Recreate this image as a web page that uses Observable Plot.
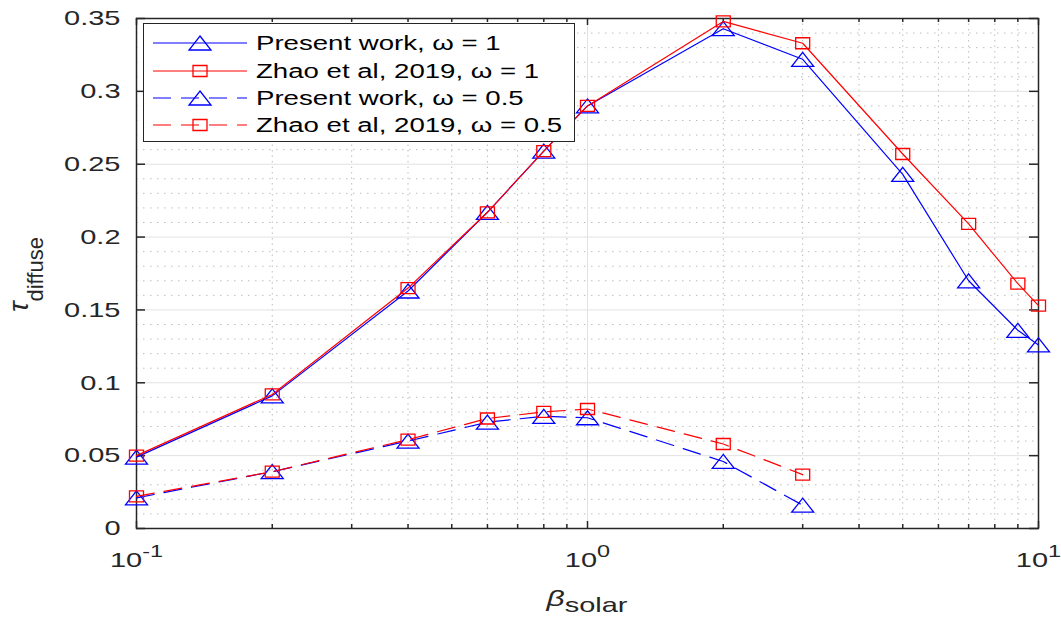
<!DOCTYPE html>
<html>
<head>
<meta charset="utf-8">
<script src="https://cdn.jsdelivr.net/npm/d3@7"></script>
<script src="https://cdn.jsdelivr.net/npm/@observablehq/plot@0.6"></script>
<style>
  html, body { margin: 0; padding: 0; background: #fff; }
</style>
</head>
<body>
<div id="chart"></div>
<script>
// Diffuse transmittance vs. solar extinction parameter, two albedos
const betaFull = [0.1, 0.2, 0.4, 0.6, 0.8, 1, 2, 3, 5, 7, 9, 10];
const presentW1 = [0.049, 0.091, 0.163, 0.217, 0.259, 0.290, 0.343, 0.322, 0.243, 0.170, 0.136, 0.126];
const zhaoW1    = [0.050, 0.092, 0.165, 0.217, 0.259, 0.290, 0.348, 0.333, 0.257, 0.209, 0.168, 0.153];

const betaHalf = [0.1, 0.2, 0.4, 0.6, 0.8, 1, 2, 3];
const presentW05 = [0.021, 0.039, 0.060, 0.073, 0.077, 0.076, 0.046, 0.016];
const zhaoW05    = [0.022, 0.039, 0.061, 0.0755, 0.080, 0.082, 0.058, 0.037];

const seriesNames = [
  "Present work, ω = 1",
  "Zhao et al, 2019, ω = 1",
  "Present work, ω = 0.5",
  "Zhao et al, 2019, ω = 0.5"
];

const yTicks = [0, 0.05, 0.1, 0.15, 0.2, 0.25, 0.3, 0.35];
const yTickLabels = ["0", "0.05", "0.1", "0.15", "0.2", "0.25", "0.3", "0.35"];
const xTicks = [0.1, 1, 10];
const xTickExponents = ["-1", "0", "1"];

// geometry
const W = 1061, H = 617;
const mL = 136, mR = 23, mT = 18, mB = 89;
const innerW = W - mL - mR, innerH = H - mT - mB;
const SX = 1.38; // horizontal glyph stretch

const BLUE = "#0000ff", RED = "#ff0000", AX = "#262626";
const FONT = "'Liberation Sans', Arial, sans-serif";

// hollow markers
const triSym = { draw(ctx) { ctx.moveTo(0, -7); ctx.lineTo(11, 7); ctx.lineTo(-11, 7); ctx.closePath(); } };
const sqSym  = { draw(ctx) { ctx.moveTo(-7, -5.5); ctx.lineTo(7, -5.5); ctx.lineTo(7, 5.5); ctx.lineTo(-7, 5.5); ctx.closePath(); } };

const rows = (xs, ys) => xs.map((x, i) => ({x, y: ys[i]}));
const series = [
  {data: rows(betaFull, presentW1), stroke: BLUE, symbol: triSym, dash: null},
  {data: rows(betaFull, zhaoW1),    stroke: RED,  symbol: sqSym,  dash: null},
  {data: rows(betaHalf, presentW05), stroke: BLUE, symbol: triSym, dash: "18,10"},
  {data: rows(betaHalf, zhaoW05),    stroke: RED,  symbol: sqSym,  dash: "18,10"}
];

const xMinor = d3.range(2, 10).flatMap(k => [k / 10, k]);
const yMinor = d3.range(1, 35).filter(i => i % 5 !== 0).map(i => i / 100);

const marks = [
  Plot.ruleY(yMinor, {y: d => d, stroke: "#bdbdbd", strokeDasharray: "1.5,5.5"}),
  Plot.ruleX(xMinor, {x: d => d, stroke: "#bdbdbd", strokeDasharray: "1.5,4"}),
  Plot.ruleY(yTicks, {y: d => d, stroke: "#e2e2e2", strokeWidth: 1}),
  Plot.ruleX([1], {x: d => d, stroke: "#e2e2e2", strokeWidth: 1}),
  Plot.frame({stroke: AX, strokeWidth: 1.5}),
  // inward ticks on all four sides
  Plot.tickX(xMinor, {x: d => d, stroke: AX, strokeWidth: 1.5, insetTop: innerH - 4}),
  Plot.tickX(xTicks, {x: d => d, stroke: AX, strokeWidth: 1.5, insetTop: innerH - 7}),
  Plot.tickX(xMinor, {x: d => d, stroke: AX, strokeWidth: 1.5, insetBottom: innerH - 4}),
  Plot.tickX(xTicks, {x: d => d, stroke: AX, strokeWidth: 1.5, insetBottom: innerH - 7}),
  Plot.tickY(yTicks, {y: d => d, stroke: AX, strokeWidth: 1.5, insetRight: innerW - 9}),
  Plot.tickY(yTicks, {y: d => d, stroke: AX, strokeWidth: 1.5, insetLeft: innerW - 9}),
  Plot.axisY({ticks: yTicks, tickSize: 0, tickPadding: 16, label: null,
              tickFormat: d => yTickLabels[yTicks.indexOf(d)]}),
  Plot.axisX({ticks: xTicks, tickSize: 0, tickPadding: 24, label: null,
              tickFormat: d => xTickExponents[xTicks.indexOf(d)]})
];

for (const s of series) {
  marks.push(Plot.line(s.data, {x: "x", y: "y", stroke: s.stroke, strokeWidth: 1.2,
                                strokeDasharray: s.dash, curve: "linear"}));
  marks.push(Plot.dot(s.data, {x: "x", y: "y", symbol: s.symbol, r: 8, stroke: s.stroke,
                               fill: "none", strokeWidth: 1.3}));
}

const svg = Plot.plot({
  width: W, height: H,
  marginLeft: mL, marginRight: mR, marginTop: mT, marginBottom: mB,
  x: {type: "log", domain: [0.1, 10]},
  y: {type: "linear", domain: [0, 0.35]},
  style: {fontFamily: FONT, fontSize: "21px", color: AX, background: "#fff", overflow: "visible"},
  marks
});
document.getElementById("chart").appendChild(svg);

const NS = "http://www.w3.org/2000/svg";

// decade labels as 10 with superscript exponent
svg.querySelectorAll('g[aria-label="x-axis tick label"] text').forEach(t => {
  const exp = t.textContent;
  t.textContent = "10";
  const sup = document.createElementNS(NS, "tspan");
  sup.setAttribute("dy", "-10");
  sup.setAttribute("font-size", "17px");
  sup.textContent = exp;
  t.appendChild(sup);
});

// widen tick label glyphs about their anchors
svg.querySelectorAll("text").forEach(t => {
  const x = +(t.getAttribute("x") || 0);
  const tr = t.getAttribute("transform") || "";
  t.setAttribute("transform", `${tr} translate(${x},0) scale(${SX},1) translate(${-x},0)`);
});

const root = d3.select(svg);

// axis titles
const xl = root.append("text")
  .attr("transform", `translate(587,606) scale(${SX},1)`)
  .attr("text-anchor", "middle")
  .attr("fill", AX)
  .attr("font-family", FONT);
xl.append("tspan").attr("font-size", 23).attr("font-style", "italic").text("β");
xl.append("tspan").attr("font-size", 21).attr("dy", 6).text("solar");

const yl = root.append("text")
  .attr("transform", "translate(28,312) rotate(-90)")
  .attr("text-anchor", "start")
  .attr("fill", AX)
  .attr("font-family", FONT);
yl.append("tspan").attr("font-size", 28).attr("font-style", "italic").text("τ");
yl.append("tspan").attr("font-size", 22).attr("dy", 15).text("diffuse");

// legend
const lg = root.append("g").attr("font-family", FONT).attr("text-anchor", "start");
lg.append("rect").attr("x", 143.5).attr("y", 23.5).attr("width", 431).attr("height", 118)
  .attr("fill", "#fff").attr("stroke", AX).attr("stroke-width", 1);
const rowY = [43, 71, 98, 125];
series.forEach((s, i) => {
  const y = rowY[i];
  lg.append("line").attr("x1", 153).attr("x2", 247).attr("y1", y).attr("y2", y)
    .attr("stroke", s.stroke).attr("stroke-width", 1.2)
    .attr("stroke-dasharray", s.dash);
  lg.append("path").attr("d", d3.symbol(s.symbol)())
    .attr("transform", `translate(200,${y})`)
    .attr("fill", "none").attr("stroke", s.stroke).attr("stroke-width", 1.3);
  lg.append("text").attr("transform", `translate(256,${y + 7}) scale(${SX},1)`)
    .attr("text-anchor", "start")
    .attr("font-size", 20).attr("fill", "#000").text(seriesNames[i]);
});
</script>
</body>
</html>
